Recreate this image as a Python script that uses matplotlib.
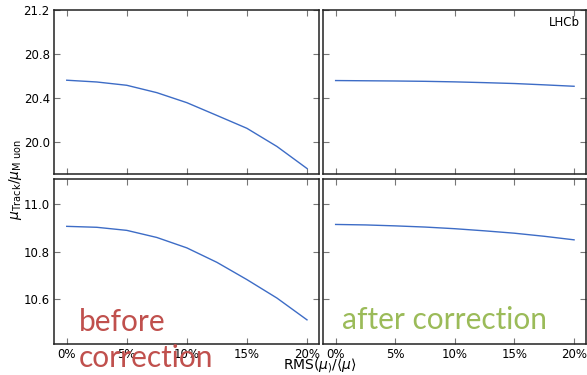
import matplotlib
matplotlib.use("Agg")
import matplotlib.pyplot as plt
from matplotlib.ticker import FuncFormatter

# RMS(mu)/<mu> values
rms = [0.0, 0.025, 0.05, 0.075, 0.10, 0.125, 0.15, 0.175, 0.20]
# Top row (before / after correction)
top_before = [20.562, 20.546, 20.516, 20.449, 20.358, 20.242, 20.125, 19.960, 19.760]
top_after = [20.559, 20.557, 20.555, 20.552, 20.547, 20.540, 20.532, 20.520, 20.507]
# Bottom row (before / after correction)
bot_before = [10.907, 10.903, 10.890, 10.860, 10.816, 10.755, 10.682, 10.604, 10.512]
bot_after = [10.915, 10.913, 10.909, 10.904, 10.897, 10.888, 10.878, 10.865, 10.850]

xticks = [0.0, 0.05, 0.10, 0.15, 0.20]
top_yticks = [20.0, 20.4, 20.8, 21.2]
bot_yticks = [10.6, 10.8, 11.0]

W, H = 587, 375
fig = plt.figure(figsize=(W / 100, H / 100), dpi=100)

def ax_at(l, r, t, b):
    return fig.add_axes([l / W, 1 - b / H, (r - l) / W, (b - t) / H])

ax_tl = ax_at(54, 319, 10, 174)
ax_tr = ax_at(323, 586, 10, 174)
ax_bl = ax_at(54, 319, 179, 344)
ax_br = ax_at(323, 586, 179, 344)

line_color = "#3d6cc6"
for ax, ys in [(ax_tl, top_before), (ax_tr, top_after), (ax_bl, bot_before), (ax_br, bot_after)]:
    ax.plot(rms, ys, color=line_color, lw=1.0)
    ax.set_xlim(-0.0106, 0.21)
    ax.set_xticks(xticks)
    ax.tick_params(direction="in", length=4, width=0.8, color="#777777",
                   top=True, right=True, labelsize=8.5, pad=3)
    for s in ax.spines.values():
        s.set_linewidth(1.1)
        s.set_color("#222222")

for ax in (ax_tl, ax_tr):
    ax.set_ylim(19.71, 21.2)
    ax.set_yticks(top_yticks)
    ax.tick_params(labelbottom=False)
for ax in (ax_bl, ax_br):
    ax.set_ylim(10.41, 11.107)
    ax.set_yticks(bot_yticks)
    ax.xaxis.set_major_formatter(FuncFormatter(lambda v, p: f"{v*100:.0f}%"))
for ax in (ax_tr, ax_br):
    ax.tick_params(labelleft=False)
ax_tl.yaxis.set_major_formatter(FuncFormatter(lambda v, p: f"{v:.1f}"))
ax_bl.yaxis.set_major_formatter(FuncFormatter(lambda v, p: f"{v:.1f}"))

fig.text(15 / W, 1 - 180 / H, r"$\mu_{\rm Track}/\mu_{\rm M\ uon}$", rotation=90,
         ha="center", va="center", fontsize=10)
fig.text(320 / W, 1 - 366 / H, r"RMS$(\mu_{)}/\langle\mu\rangle$", ha="center",
         va="center", fontsize=10)
fig.text(580 / W, 1 - 22 / H, "LHCb", ha="right", va="center", fontsize=8.5)

fig.text(79 / W, 1 - 331 / H, "before", color="#c0504d", fontsize=21.5,
         family="Lato", ha="left", va="baseline")
fig.text(79 / W, 1 - 367 / H, "correction", color="#c0504d", fontsize=21.5,
         family="Lato", ha="left", va="baseline")
fig.text(342 / W, 1 - 329 / H, "after correction", color="#9bbb59", fontsize=21.5,
         family="Lato", ha="left", va="baseline")

fig.savefig("out.png", dpi=100)
